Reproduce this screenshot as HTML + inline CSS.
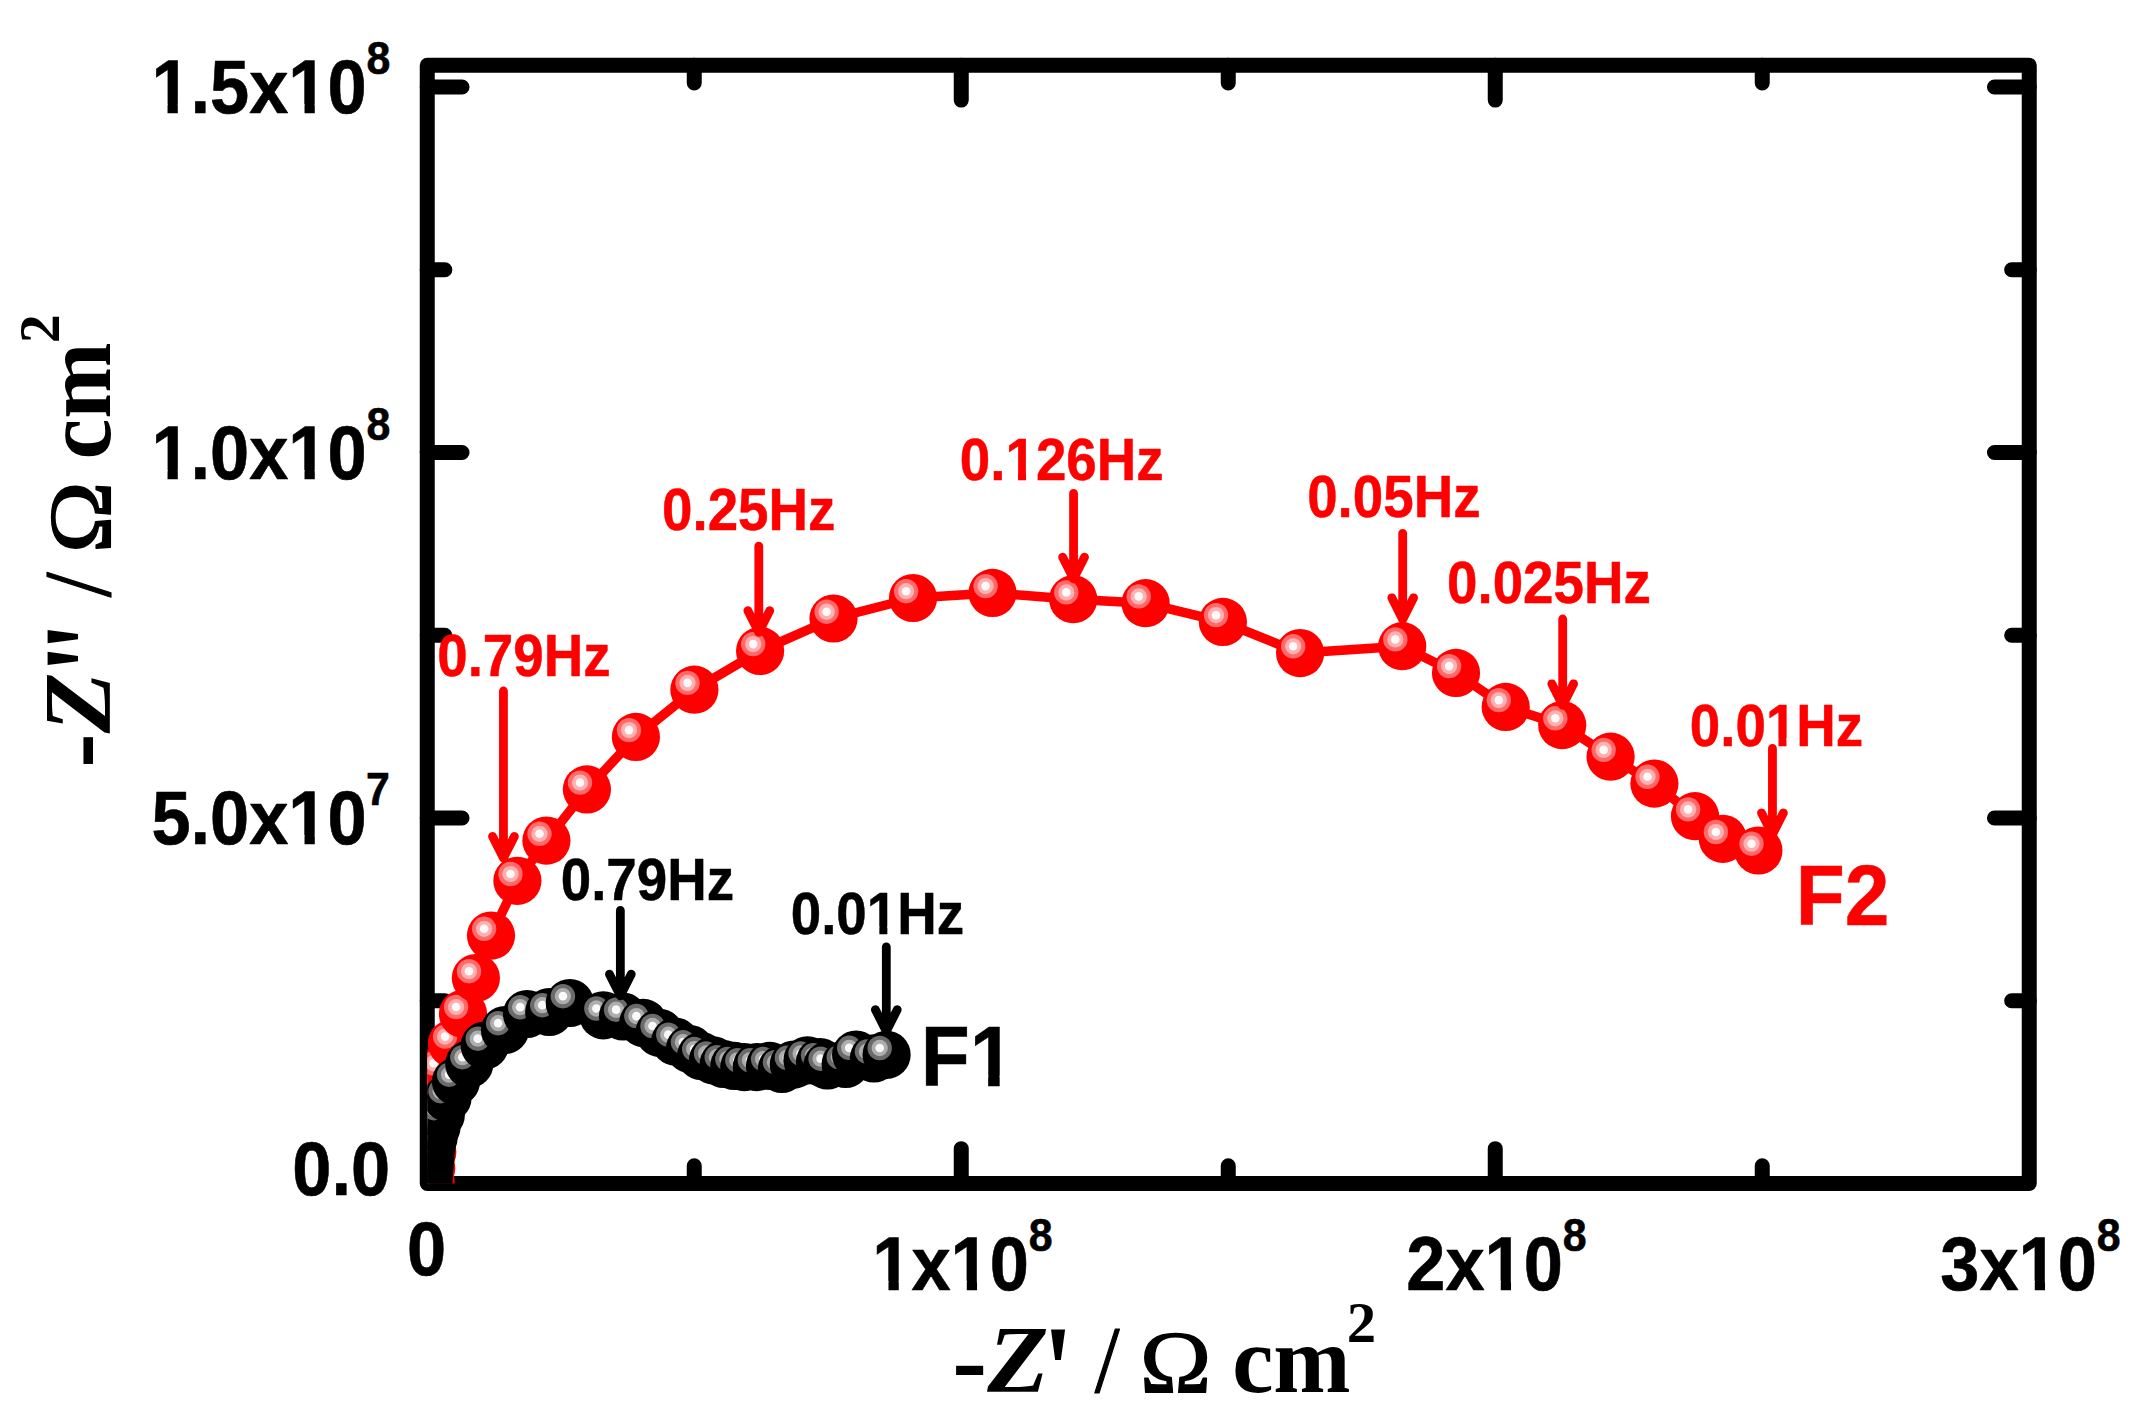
<!DOCTYPE html>
<html lang="en"><head><meta charset="utf-8"><title>Nyquist plot</title>
<style>html,body{margin:0;padding:0;background:#fff}body{width:2145px;height:1422px;overflow:hidden}svg{display:block}text{font-kerning:none;white-space:pre}.s{font-family:"Liberation Sans",Arial,sans-serif;font-weight:bold}.t{font-family:"Liberation Serif","Times New Roman",serif;font-weight:bold}.i{font-style:italic}.r{font-weight:normal}</style></head><body>
<svg width="2145" height="1422" viewBox="0 0 2145 1422">
<defs>
<clipPath id="cp"><rect x="427.25" y="65.30" width="1602.00" height="1118.15"/></clipPath>
</defs>
<rect width="2145" height="1422" fill="#fff"/>
<g fill="none" stroke="#000" stroke-width="15.0" stroke-linecap="round" stroke-linejoin="round">
<rect x="427.25" y="65.30" width="1602.00" height="1118.15"/>
<path d="M694.25 1183.45v-17.6M694.25 65.30v17.6M961.25 1183.45v-34.8M961.25 65.30v34.8M1228.25 1183.45v-17.6M1228.25 65.30v17.6M1495.25 1183.45v-34.8M1495.25 65.30v34.8M1762.25 1183.45v-17.6M1762.25 65.30v17.6M427.25 1000.71h17.6M2029.25 1000.71h-17.6M427.25 817.97h34.8M2029.25 817.97h-34.8M427.25 635.23h17.6M2029.25 635.23h-17.6M427.25 452.48h34.8M2029.25 452.48h-34.8M427.25 269.74h17.6M2029.25 269.74h-17.6M427.25 87.00h34.8M2029.25 87.00h-34.8"/>
</g>
<g clip-path="url(#cp)"><polyline fill="none" stroke="#ff0000" stroke-width="9.5" stroke-linejoin="round" points="430.6,1181.0 431.2,1168.0 432.3,1152.0 434.0,1134.0 436.0,1114.0 438.0,1093.0 440.4,1070.1 452.0,1043.4 463.0,1013.8 475.9,978.0 491.0,935.6 517.4,880.8 546.4,840.6 586.9,789.4 635.9,736.9 694.4,689.7 760.1,650.9 833.5,618.5 913.0,598.0 992.5,592.9 1073.2,599.2 1145.6,603.2 1222.9,621.9 1300.1,653.1 1402.2,646.2 1456.0,672.9 1505.7,706.9 1562.2,725.1 1610.6,756.7 1654.4,783.6 1695.0,816.2 1722.8,838.8 1758.4,850.5"/><g transform="translate(430.6 1181.0)"><circle r="24.1" fill="#ff0000"/><circle cx="-6.9" cy="-6.8" r="12.2" fill="#ff6b6b"/><circle cx="-6.9" cy="-6.8" r="8.1" fill="#ffb0b0"/><circle cx="-6.9" cy="-6.8" r="4.3" fill="#fffafa"/></g><g transform="translate(431.2 1168.0)"><circle r="24.1" fill="#ff0000"/><circle cx="-6.9" cy="-6.8" r="12.2" fill="#ff6b6b"/><circle cx="-6.9" cy="-6.8" r="8.1" fill="#ffb0b0"/><circle cx="-6.9" cy="-6.8" r="4.3" fill="#fffafa"/></g><g transform="translate(432.3 1152.0)"><circle r="24.1" fill="#ff0000"/><circle cx="-6.9" cy="-6.8" r="12.2" fill="#ff6b6b"/><circle cx="-6.9" cy="-6.8" r="8.1" fill="#ffb0b0"/><circle cx="-6.9" cy="-6.8" r="4.3" fill="#fffafa"/></g><g transform="translate(434.0 1134.0)"><circle r="24.1" fill="#ff0000"/><circle cx="-6.9" cy="-6.8" r="12.2" fill="#ff6b6b"/><circle cx="-6.9" cy="-6.8" r="8.1" fill="#ffb0b0"/><circle cx="-6.9" cy="-6.8" r="4.3" fill="#fffafa"/></g><g transform="translate(436.0 1114.0)"><circle r="24.1" fill="#ff0000"/><circle cx="-6.9" cy="-6.8" r="12.2" fill="#ff6b6b"/><circle cx="-6.9" cy="-6.8" r="8.1" fill="#ffb0b0"/><circle cx="-6.9" cy="-6.8" r="4.3" fill="#fffafa"/></g><g transform="translate(438.0 1093.0)"><circle r="24.1" fill="#ff0000"/><circle cx="-6.9" cy="-6.8" r="12.2" fill="#ff6b6b"/><circle cx="-6.9" cy="-6.8" r="8.1" fill="#ffb0b0"/><circle cx="-6.9" cy="-6.8" r="4.3" fill="#fffafa"/></g><g transform="translate(440.4 1070.1)"><circle r="24.1" fill="#ff0000"/><circle cx="-6.9" cy="-6.8" r="12.2" fill="#ff6b6b"/><circle cx="-6.9" cy="-6.8" r="8.1" fill="#ffb0b0"/><circle cx="-6.9" cy="-6.8" r="4.3" fill="#fffafa"/></g><g transform="translate(452.0 1043.4)"><circle r="24.1" fill="#ff0000"/><circle cx="-6.9" cy="-6.8" r="12.2" fill="#ff6b6b"/><circle cx="-6.9" cy="-6.8" r="8.1" fill="#ffb0b0"/><circle cx="-6.9" cy="-6.8" r="4.3" fill="#fffafa"/></g><g transform="translate(463.0 1013.8)"><circle r="24.1" fill="#ff0000"/><circle cx="-6.9" cy="-6.8" r="12.2" fill="#ff6b6b"/><circle cx="-6.9" cy="-6.8" r="8.1" fill="#ffb0b0"/><circle cx="-6.9" cy="-6.8" r="4.3" fill="#fffafa"/></g><g transform="translate(475.9 978.0)"><circle r="24.1" fill="#ff0000"/><circle cx="-6.9" cy="-6.8" r="12.2" fill="#ff6b6b"/><circle cx="-6.9" cy="-6.8" r="8.1" fill="#ffb0b0"/><circle cx="-6.9" cy="-6.8" r="4.3" fill="#fffafa"/></g><g transform="translate(491.0 935.6)"><circle r="24.1" fill="#ff0000"/><circle cx="-6.9" cy="-6.8" r="12.2" fill="#ff6b6b"/><circle cx="-6.9" cy="-6.8" r="8.1" fill="#ffb0b0"/><circle cx="-6.9" cy="-6.8" r="4.3" fill="#fffafa"/></g><g transform="translate(517.4 880.8)"><circle r="24.1" fill="#ff0000"/><circle cx="-6.9" cy="-6.8" r="12.2" fill="#ff6b6b"/><circle cx="-6.9" cy="-6.8" r="8.1" fill="#ffb0b0"/><circle cx="-6.9" cy="-6.8" r="4.3" fill="#fffafa"/></g><g transform="translate(546.4 840.6)"><circle r="24.1" fill="#ff0000"/><circle cx="-6.9" cy="-6.8" r="12.2" fill="#ff6b6b"/><circle cx="-6.9" cy="-6.8" r="8.1" fill="#ffb0b0"/><circle cx="-6.9" cy="-6.8" r="4.3" fill="#fffafa"/></g><g transform="translate(586.9 789.4)"><circle r="24.1" fill="#ff0000"/><circle cx="-6.9" cy="-6.8" r="12.2" fill="#ff6b6b"/><circle cx="-6.9" cy="-6.8" r="8.1" fill="#ffb0b0"/><circle cx="-6.9" cy="-6.8" r="4.3" fill="#fffafa"/></g><g transform="translate(635.9 736.9)"><circle r="24.1" fill="#ff0000"/><circle cx="-6.9" cy="-6.8" r="12.2" fill="#ff6b6b"/><circle cx="-6.9" cy="-6.8" r="8.1" fill="#ffb0b0"/><circle cx="-6.9" cy="-6.8" r="4.3" fill="#fffafa"/></g><g transform="translate(694.4 689.7)"><circle r="24.1" fill="#ff0000"/><circle cx="-6.9" cy="-6.8" r="12.2" fill="#ff6b6b"/><circle cx="-6.9" cy="-6.8" r="8.1" fill="#ffb0b0"/><circle cx="-6.9" cy="-6.8" r="4.3" fill="#fffafa"/></g><g transform="translate(760.1 650.9)"><circle r="24.1" fill="#ff0000"/><circle cx="-6.9" cy="-6.8" r="12.2" fill="#ff6b6b"/><circle cx="-6.9" cy="-6.8" r="8.1" fill="#ffb0b0"/><circle cx="-6.9" cy="-6.8" r="4.3" fill="#fffafa"/></g><g transform="translate(833.5 618.5)"><circle r="24.1" fill="#ff0000"/><circle cx="-6.9" cy="-6.8" r="12.2" fill="#ff6b6b"/><circle cx="-6.9" cy="-6.8" r="8.1" fill="#ffb0b0"/><circle cx="-6.9" cy="-6.8" r="4.3" fill="#fffafa"/></g><g transform="translate(913.0 598.0)"><circle r="24.1" fill="#ff0000"/><circle cx="-6.9" cy="-6.8" r="12.2" fill="#ff6b6b"/><circle cx="-6.9" cy="-6.8" r="8.1" fill="#ffb0b0"/><circle cx="-6.9" cy="-6.8" r="4.3" fill="#fffafa"/></g><g transform="translate(992.5 592.9)"><circle r="24.1" fill="#ff0000"/><circle cx="-6.9" cy="-6.8" r="12.2" fill="#ff6b6b"/><circle cx="-6.9" cy="-6.8" r="8.1" fill="#ffb0b0"/><circle cx="-6.9" cy="-6.8" r="4.3" fill="#fffafa"/></g><g transform="translate(1073.2 599.2)"><circle r="24.1" fill="#ff0000"/><circle cx="-6.9" cy="-6.8" r="12.2" fill="#ff6b6b"/><circle cx="-6.9" cy="-6.8" r="8.1" fill="#ffb0b0"/><circle cx="-6.9" cy="-6.8" r="4.3" fill="#fffafa"/></g><g transform="translate(1145.6 603.2)"><circle r="24.1" fill="#ff0000"/><circle cx="-6.9" cy="-6.8" r="12.2" fill="#ff6b6b"/><circle cx="-6.9" cy="-6.8" r="8.1" fill="#ffb0b0"/><circle cx="-6.9" cy="-6.8" r="4.3" fill="#fffafa"/></g><g transform="translate(1222.9 621.9)"><circle r="24.1" fill="#ff0000"/><circle cx="-6.9" cy="-6.8" r="12.2" fill="#ff6b6b"/><circle cx="-6.9" cy="-6.8" r="8.1" fill="#ffb0b0"/><circle cx="-6.9" cy="-6.8" r="4.3" fill="#fffafa"/></g><g transform="translate(1300.1 653.1)"><circle r="24.1" fill="#ff0000"/><circle cx="-6.9" cy="-6.8" r="12.2" fill="#ff6b6b"/><circle cx="-6.9" cy="-6.8" r="8.1" fill="#ffb0b0"/><circle cx="-6.9" cy="-6.8" r="4.3" fill="#fffafa"/></g><g transform="translate(1402.2 646.2)"><circle r="24.1" fill="#ff0000"/><circle cx="-6.9" cy="-6.8" r="12.2" fill="#ff6b6b"/><circle cx="-6.9" cy="-6.8" r="8.1" fill="#ffb0b0"/><circle cx="-6.9" cy="-6.8" r="4.3" fill="#fffafa"/></g><g transform="translate(1456.0 672.9)"><circle r="24.1" fill="#ff0000"/><circle cx="-6.9" cy="-6.8" r="12.2" fill="#ff6b6b"/><circle cx="-6.9" cy="-6.8" r="8.1" fill="#ffb0b0"/><circle cx="-6.9" cy="-6.8" r="4.3" fill="#fffafa"/></g><g transform="translate(1505.7 706.9)"><circle r="24.1" fill="#ff0000"/><circle cx="-6.9" cy="-6.8" r="12.2" fill="#ff6b6b"/><circle cx="-6.9" cy="-6.8" r="8.1" fill="#ffb0b0"/><circle cx="-6.9" cy="-6.8" r="4.3" fill="#fffafa"/></g><g transform="translate(1562.2 725.1)"><circle r="24.1" fill="#ff0000"/><circle cx="-6.9" cy="-6.8" r="12.2" fill="#ff6b6b"/><circle cx="-6.9" cy="-6.8" r="8.1" fill="#ffb0b0"/><circle cx="-6.9" cy="-6.8" r="4.3" fill="#fffafa"/></g><g transform="translate(1610.6 756.7)"><circle r="24.1" fill="#ff0000"/><circle cx="-6.9" cy="-6.8" r="12.2" fill="#ff6b6b"/><circle cx="-6.9" cy="-6.8" r="8.1" fill="#ffb0b0"/><circle cx="-6.9" cy="-6.8" r="4.3" fill="#fffafa"/></g><g transform="translate(1654.4 783.6)"><circle r="24.1" fill="#ff0000"/><circle cx="-6.9" cy="-6.8" r="12.2" fill="#ff6b6b"/><circle cx="-6.9" cy="-6.8" r="8.1" fill="#ffb0b0"/><circle cx="-6.9" cy="-6.8" r="4.3" fill="#fffafa"/></g><g transform="translate(1695.0 816.2)"><circle r="24.1" fill="#ff0000"/><circle cx="-6.9" cy="-6.8" r="12.2" fill="#ff6b6b"/><circle cx="-6.9" cy="-6.8" r="8.1" fill="#ffb0b0"/><circle cx="-6.9" cy="-6.8" r="4.3" fill="#fffafa"/></g><g transform="translate(1722.8 838.8)"><circle r="24.1" fill="#ff0000"/><circle cx="-6.9" cy="-6.8" r="12.2" fill="#ff6b6b"/><circle cx="-6.9" cy="-6.8" r="8.1" fill="#ffb0b0"/><circle cx="-6.9" cy="-6.8" r="4.3" fill="#fffafa"/></g><g transform="translate(1758.4 850.5)"><circle r="24.1" fill="#ff0000"/><circle cx="-6.9" cy="-6.8" r="12.2" fill="#ff6b6b"/><circle cx="-6.9" cy="-6.8" r="8.1" fill="#ffb0b0"/><circle cx="-6.9" cy="-6.8" r="4.3" fill="#fffafa"/></g></g>
<g clip-path="url(#cp)"><polyline fill="none" stroke="#000" stroke-width="9.5" stroke-linejoin="round" points="428.5,1182.0 429.0,1175.0 429.6,1167.0 430.4,1158.0 431.5,1148.0 433.5,1138.0 436.5,1127.0 440.8,1115.0 447.5,1098.0 456.0,1081.5 469.3,1064.0 484.7,1045.5 505.0,1030.0 527.1,1014.0 549.2,1012.0 569.8,1003.0 603.3,1015.3 623.0,1016.5 643.3,1022.9 659.4,1032.8 675.2,1041.5 689.9,1049.0 701.1,1055.9 713.0,1060.3 723.7,1064.0 734.3,1065.9 744.3,1067.1 756.8,1067.1 770.0,1065.9 781.9,1069.0 793.8,1064.6 807.5,1060.3 820.0,1062.1 827.5,1065.5 845.7,1064.0 856.1,1054.6 873.9,1058.4 886.6,1054.8"/><g transform="translate(428.5 1182.0)"><circle r="24.1" fill="#000"/><circle cx="-6.9" cy="-6.8" r="12.25" fill="#6b6b6b"/><circle cx="-6.9" cy="-6.8" r="8.15" fill="#aeaeae"/><circle cx="-6.9" cy="-6.8" r="4.35" fill="#fafafa"/></g><g transform="translate(429.0 1175.0)"><circle r="24.1" fill="#000"/><circle cx="-6.9" cy="-6.8" r="12.25" fill="#6b6b6b"/><circle cx="-6.9" cy="-6.8" r="8.15" fill="#aeaeae"/><circle cx="-6.9" cy="-6.8" r="4.35" fill="#fafafa"/></g><g transform="translate(429.6 1167.0)"><circle r="24.1" fill="#000"/><circle cx="-6.9" cy="-6.8" r="12.25" fill="#6b6b6b"/><circle cx="-6.9" cy="-6.8" r="8.15" fill="#aeaeae"/><circle cx="-6.9" cy="-6.8" r="4.35" fill="#fafafa"/></g><g transform="translate(430.4 1158.0)"><circle r="24.1" fill="#000"/><circle cx="-6.9" cy="-6.8" r="12.25" fill="#6b6b6b"/><circle cx="-6.9" cy="-6.8" r="8.15" fill="#aeaeae"/><circle cx="-6.9" cy="-6.8" r="4.35" fill="#fafafa"/></g><g transform="translate(431.5 1148.0)"><circle r="24.1" fill="#000"/><circle cx="-6.9" cy="-6.8" r="12.25" fill="#6b6b6b"/><circle cx="-6.9" cy="-6.8" r="8.15" fill="#aeaeae"/><circle cx="-6.9" cy="-6.8" r="4.35" fill="#fafafa"/></g><g transform="translate(433.5 1138.0)"><circle r="24.1" fill="#000"/><circle cx="-6.9" cy="-6.8" r="12.25" fill="#6b6b6b"/><circle cx="-6.9" cy="-6.8" r="8.15" fill="#aeaeae"/><circle cx="-6.9" cy="-6.8" r="4.35" fill="#fafafa"/></g><g transform="translate(436.5 1127.0)"><circle r="24.1" fill="#000"/><circle cx="-6.9" cy="-6.8" r="12.25" fill="#6b6b6b"/><circle cx="-6.9" cy="-6.8" r="8.15" fill="#aeaeae"/><circle cx="-6.9" cy="-6.8" r="4.35" fill="#fafafa"/></g><g transform="translate(440.8 1115.0)"><circle r="24.1" fill="#000"/><circle cx="-6.9" cy="-6.8" r="12.25" fill="#6b6b6b"/><circle cx="-6.9" cy="-6.8" r="8.15" fill="#aeaeae"/><circle cx="-6.9" cy="-6.8" r="4.35" fill="#fafafa"/></g><g transform="translate(447.5 1098.0)"><circle r="24.1" fill="#000"/><circle cx="-6.9" cy="-6.8" r="12.25" fill="#6b6b6b"/><circle cx="-6.9" cy="-6.8" r="8.15" fill="#aeaeae"/><circle cx="-6.9" cy="-6.8" r="4.35" fill="#fafafa"/></g><g transform="translate(456.0 1081.5)"><circle r="24.1" fill="#000"/><circle cx="-6.9" cy="-6.8" r="12.25" fill="#6b6b6b"/><circle cx="-6.9" cy="-6.8" r="8.15" fill="#aeaeae"/><circle cx="-6.9" cy="-6.8" r="4.35" fill="#fafafa"/></g><g transform="translate(469.3 1064.0)"><circle r="24.1" fill="#000"/><circle cx="-6.9" cy="-6.8" r="12.25" fill="#6b6b6b"/><circle cx="-6.9" cy="-6.8" r="8.15" fill="#aeaeae"/><circle cx="-6.9" cy="-6.8" r="4.35" fill="#fafafa"/></g><g transform="translate(484.7 1045.5)"><circle r="24.1" fill="#000"/><circle cx="-6.9" cy="-6.8" r="12.25" fill="#6b6b6b"/><circle cx="-6.9" cy="-6.8" r="8.15" fill="#aeaeae"/><circle cx="-6.9" cy="-6.8" r="4.35" fill="#fafafa"/></g><g transform="translate(505.0 1030.0)"><circle r="24.1" fill="#000"/><circle cx="-6.9" cy="-6.8" r="12.25" fill="#6b6b6b"/><circle cx="-6.9" cy="-6.8" r="8.15" fill="#aeaeae"/><circle cx="-6.9" cy="-6.8" r="4.35" fill="#fafafa"/></g><g transform="translate(527.1 1014.0)"><circle r="24.1" fill="#000"/><circle cx="-6.9" cy="-6.8" r="12.25" fill="#6b6b6b"/><circle cx="-6.9" cy="-6.8" r="8.15" fill="#aeaeae"/><circle cx="-6.9" cy="-6.8" r="4.35" fill="#fafafa"/></g><g transform="translate(549.2 1012.0)"><circle r="24.1" fill="#000"/><circle cx="-6.9" cy="-6.8" r="12.25" fill="#6b6b6b"/><circle cx="-6.9" cy="-6.8" r="8.15" fill="#aeaeae"/><circle cx="-6.9" cy="-6.8" r="4.35" fill="#fafafa"/></g><g transform="translate(569.8 1003.0)"><circle r="24.1" fill="#000"/><circle cx="-6.9" cy="-6.8" r="12.25" fill="#6b6b6b"/><circle cx="-6.9" cy="-6.8" r="8.15" fill="#aeaeae"/><circle cx="-6.9" cy="-6.8" r="4.35" fill="#fafafa"/></g><g transform="translate(603.3 1015.3)"><circle r="24.1" fill="#000"/><circle cx="-6.9" cy="-6.8" r="12.25" fill="#6b6b6b"/><circle cx="-6.9" cy="-6.8" r="8.15" fill="#aeaeae"/><circle cx="-6.9" cy="-6.8" r="4.35" fill="#fafafa"/></g><g transform="translate(623.0 1016.5)"><circle r="24.1" fill="#000"/><circle cx="-6.9" cy="-6.8" r="12.25" fill="#6b6b6b"/><circle cx="-6.9" cy="-6.8" r="8.15" fill="#aeaeae"/><circle cx="-6.9" cy="-6.8" r="4.35" fill="#fafafa"/></g><g transform="translate(643.3 1022.9)"><circle r="24.1" fill="#000"/><circle cx="-6.9" cy="-6.8" r="12.25" fill="#6b6b6b"/><circle cx="-6.9" cy="-6.8" r="8.15" fill="#aeaeae"/><circle cx="-6.9" cy="-6.8" r="4.35" fill="#fafafa"/></g><g transform="translate(659.4 1032.8)"><circle r="24.1" fill="#000"/><circle cx="-6.9" cy="-6.8" r="12.25" fill="#6b6b6b"/><circle cx="-6.9" cy="-6.8" r="8.15" fill="#aeaeae"/><circle cx="-6.9" cy="-6.8" r="4.35" fill="#fafafa"/></g><g transform="translate(675.2 1041.5)"><circle r="24.1" fill="#000"/><circle cx="-6.9" cy="-6.8" r="12.25" fill="#6b6b6b"/><circle cx="-6.9" cy="-6.8" r="8.15" fill="#aeaeae"/><circle cx="-6.9" cy="-6.8" r="4.35" fill="#fafafa"/></g><g transform="translate(689.9 1049.0)"><circle r="24.1" fill="#000"/><circle cx="-6.9" cy="-6.8" r="12.25" fill="#6b6b6b"/><circle cx="-6.9" cy="-6.8" r="8.15" fill="#aeaeae"/><circle cx="-6.9" cy="-6.8" r="4.35" fill="#fafafa"/></g><g transform="translate(701.1 1055.9)"><circle r="24.1" fill="#000"/><circle cx="-6.9" cy="-6.8" r="12.25" fill="#6b6b6b"/><circle cx="-6.9" cy="-6.8" r="8.15" fill="#aeaeae"/><circle cx="-6.9" cy="-6.8" r="4.35" fill="#fafafa"/></g><g transform="translate(713.0 1060.3)"><circle r="24.1" fill="#000"/><circle cx="-6.9" cy="-6.8" r="12.25" fill="#6b6b6b"/><circle cx="-6.9" cy="-6.8" r="8.15" fill="#aeaeae"/><circle cx="-6.9" cy="-6.8" r="4.35" fill="#fafafa"/></g><g transform="translate(723.7 1064.0)"><circle r="24.1" fill="#000"/><circle cx="-6.9" cy="-6.8" r="12.25" fill="#6b6b6b"/><circle cx="-6.9" cy="-6.8" r="8.15" fill="#aeaeae"/><circle cx="-6.9" cy="-6.8" r="4.35" fill="#fafafa"/></g><g transform="translate(734.3 1065.9)"><circle r="24.1" fill="#000"/><circle cx="-6.9" cy="-6.8" r="12.25" fill="#6b6b6b"/><circle cx="-6.9" cy="-6.8" r="8.15" fill="#aeaeae"/><circle cx="-6.9" cy="-6.8" r="4.35" fill="#fafafa"/></g><g transform="translate(744.3 1067.1)"><circle r="24.1" fill="#000"/><circle cx="-6.9" cy="-6.8" r="12.25" fill="#6b6b6b"/><circle cx="-6.9" cy="-6.8" r="8.15" fill="#aeaeae"/><circle cx="-6.9" cy="-6.8" r="4.35" fill="#fafafa"/></g><g transform="translate(756.8 1067.1)"><circle r="24.1" fill="#000"/><circle cx="-6.9" cy="-6.8" r="12.25" fill="#6b6b6b"/><circle cx="-6.9" cy="-6.8" r="8.15" fill="#aeaeae"/><circle cx="-6.9" cy="-6.8" r="4.35" fill="#fafafa"/></g><g transform="translate(770.0 1065.9)"><circle r="24.1" fill="#000"/><circle cx="-6.9" cy="-6.8" r="12.25" fill="#6b6b6b"/><circle cx="-6.9" cy="-6.8" r="8.15" fill="#aeaeae"/><circle cx="-6.9" cy="-6.8" r="4.35" fill="#fafafa"/></g><g transform="translate(781.9 1069.0)"><circle r="24.1" fill="#000"/><circle cx="-6.9" cy="-6.8" r="12.25" fill="#6b6b6b"/><circle cx="-6.9" cy="-6.8" r="8.15" fill="#aeaeae"/><circle cx="-6.9" cy="-6.8" r="4.35" fill="#fafafa"/></g><g transform="translate(793.8 1064.6)"><circle r="24.1" fill="#000"/><circle cx="-6.9" cy="-6.8" r="12.25" fill="#6b6b6b"/><circle cx="-6.9" cy="-6.8" r="8.15" fill="#aeaeae"/><circle cx="-6.9" cy="-6.8" r="4.35" fill="#fafafa"/></g><g transform="translate(807.5 1060.3)"><circle r="24.1" fill="#000"/><circle cx="-6.9" cy="-6.8" r="12.25" fill="#6b6b6b"/><circle cx="-6.9" cy="-6.8" r="8.15" fill="#aeaeae"/><circle cx="-6.9" cy="-6.8" r="4.35" fill="#fafafa"/></g><g transform="translate(820.0 1062.1)"><circle r="24.1" fill="#000"/><circle cx="-6.9" cy="-6.8" r="12.25" fill="#6b6b6b"/><circle cx="-6.9" cy="-6.8" r="8.15" fill="#aeaeae"/><circle cx="-6.9" cy="-6.8" r="4.35" fill="#fafafa"/></g><g transform="translate(827.5 1065.5)"><circle r="24.1" fill="#000"/><circle cx="-6.9" cy="-6.8" r="12.25" fill="#6b6b6b"/><circle cx="-6.9" cy="-6.8" r="8.15" fill="#aeaeae"/><circle cx="-6.9" cy="-6.8" r="4.35" fill="#fafafa"/></g><g transform="translate(845.7 1064.0)"><circle r="24.1" fill="#000"/><circle cx="-6.9" cy="-6.8" r="12.25" fill="#6b6b6b"/><circle cx="-6.9" cy="-6.8" r="8.15" fill="#aeaeae"/><circle cx="-6.9" cy="-6.8" r="4.35" fill="#fafafa"/></g><g transform="translate(856.1 1054.6)"><circle r="24.1" fill="#000"/><circle cx="-6.9" cy="-6.8" r="12.25" fill="#6b6b6b"/><circle cx="-6.9" cy="-6.8" r="8.15" fill="#aeaeae"/><circle cx="-6.9" cy="-6.8" r="4.35" fill="#fafafa"/></g><g transform="translate(873.9 1058.4)"><circle r="24.1" fill="#000"/><circle cx="-6.9" cy="-6.8" r="12.25" fill="#6b6b6b"/><circle cx="-6.9" cy="-6.8" r="8.15" fill="#aeaeae"/><circle cx="-6.9" cy="-6.8" r="4.35" fill="#fafafa"/></g><g transform="translate(886.6 1054.8)"><circle r="24.1" fill="#000"/><circle cx="-6.9" cy="-6.8" r="12.25" fill="#6b6b6b"/><circle cx="-6.9" cy="-6.8" r="8.15" fill="#aeaeae"/><circle cx="-6.9" cy="-6.8" r="4.35" fill="#fafafa"/></g></g>
<text class="s" stroke="#ff0000" stroke-width="0.50" stroke-linejoin="round" fill="#ff0000" font-size="59.30" transform="translate(437.24 676.10) scale(0.9230 1.0000)">0.79Hz</text>
<text class="s" stroke="#ff0000" stroke-width="0.50" stroke-linejoin="round" fill="#ff0000" font-size="59.30" transform="translate(662.04 529.80) scale(0.9230 1.0000)">0.25Hz</text>
<text class="s" stroke="#ff0000" stroke-width="0.50" stroke-linejoin="round" fill="#ff0000" font-size="59.30" transform="translate(959.84 480.00) scale(0.9230 1.0000)">0.126Hz</text><rect x="1007.48" y="472.50" width="10.53" height="8.95" fill="#fff"/><rect x="1026.02" y="472.50" width="9.83" height="8.95" fill="#fff"/>
<text class="s" stroke="#ff0000" stroke-width="0.50" stroke-linejoin="round" fill="#ff0000" font-size="59.30" transform="translate(1307.14 517.00) scale(0.9230 1.0000)">0.05Hz</text>
<text class="s" stroke="#ff0000" stroke-width="0.50" stroke-linejoin="round" fill="#ff0000" font-size="59.30" transform="translate(1447.04 602.90) scale(0.9230 1.0000)">0.025Hz</text>
<text class="s" stroke="#ff0000" stroke-width="0.50" stroke-linejoin="round" fill="#ff0000" font-size="59.30" transform="translate(1689.84 746.00) scale(0.9230 1.0000)">0.01Hz</text><rect x="1767.92" y="738.50" width="10.53" height="8.95" fill="#fff"/><rect x="1786.46" y="738.50" width="9.83" height="8.95" fill="#fff"/>
<text class="s" stroke="#000" stroke-width="0.50" stroke-linejoin="round" font-size="59.30" transform="translate(560.74 900.00) scale(0.9230 1.0000)">0.79Hz</text>
<text class="s" stroke="#000" stroke-width="0.50" stroke-linejoin="round" font-size="59.30" transform="translate(790.74 933.90) scale(0.9230 1.0000)">0.01Hz</text><rect x="868.82" y="926.40" width="10.53" height="8.95" fill="#fff"/><rect x="887.36" y="926.40" width="9.83" height="8.95" fill="#fff"/>
<text class="s" stroke="#ff0000" stroke-width="0.50" stroke-linejoin="round" fill="#ff0000" font-size="85.50" transform="translate(1795.63 924.90) scale(0.9390 1.0000)">F2</text>
<text class="s" stroke="#000" stroke-width="0.50" stroke-linejoin="round" font-size="85.50" transform="translate(920.63 1085.80) scale(0.9390 1.0000)">F1</text><rect x="973.28" y="1075.62" width="14.88" height="11.63" fill="#fff"/><rect x="999.67" y="1075.62" width="13.86" height="11.63" fill="#fff"/>
<path d="M503.45 691.00V858.10M492.55 836.50L503.45 858.10L514.35 836.50" fill="none" stroke="#ff0000" stroke-width="8.8" stroke-linecap="round" stroke-linejoin="round"/>
<path d="M758.80 546.20V632.30M747.90 610.70L758.80 632.30L769.70 610.70" fill="none" stroke="#ff0000" stroke-width="8.8" stroke-linecap="round" stroke-linejoin="round"/>
<path d="M1073.56 493.30V578.80M1062.66 557.20L1073.56 578.80L1084.46 557.20" fill="none" stroke="#ff0000" stroke-width="8.8" stroke-linecap="round" stroke-linejoin="round"/>
<path d="M1402.70 533.30V619.40M1391.80 597.80L1402.70 619.40L1413.60 597.80" fill="none" stroke="#ff0000" stroke-width="8.8" stroke-linecap="round" stroke-linejoin="round"/>
<path d="M1562.70 619.00V705.40M1551.80 683.80L1562.70 705.40L1573.60 683.80" fill="none" stroke="#ff0000" stroke-width="8.8" stroke-linecap="round" stroke-linejoin="round"/>
<path d="M1772.45 748.30V834.60M1761.55 813.00L1772.45 834.60L1783.35 813.00" fill="none" stroke="#ff0000" stroke-width="8.8" stroke-linecap="round" stroke-linejoin="round"/>
<path d="M620.35 910.40V995.80M609.45 974.20L620.35 995.80L631.25 974.20" fill="none" stroke="#000" stroke-width="8.8" stroke-linecap="round" stroke-linejoin="round"/>
<path d="M886.30 946.90V1031.30M875.40 1009.70L886.30 1031.30L897.20 1009.70" fill="none" stroke="#000" stroke-width="8.8" stroke-linecap="round" stroke-linejoin="round"/>
<text class="s" stroke="#000" stroke-width="0.60" stroke-linejoin="round" font-size="75.60" transform="translate(151.41 113.10) scale(0.9310 1.0000)">1.5x10<tspan font-size="46.0" dx="-0.16" dy="-39.6">8</tspan></text><rect x="154.35" y="103.88" width="13.19" height="10.72" fill="#fff"/><rect x="177.80" y="103.88" width="12.30" height="10.72" fill="#fff"/><rect x="291.33" y="103.88" width="13.19" height="10.72" fill="#fff"/><rect x="314.78" y="103.88" width="12.30" height="10.72" fill="#fff"/>
<text class="s" stroke="#000" stroke-width="0.60" stroke-linejoin="round" font-size="75.60" transform="translate(151.41 479.20) scale(0.9310 1.0000)">1.0x10<tspan font-size="46.0" dx="-0.16" dy="-39.6">8</tspan></text><rect x="154.35" y="469.98" width="13.19" height="10.72" fill="#fff"/><rect x="177.80" y="469.98" width="12.30" height="10.72" fill="#fff"/><rect x="291.33" y="469.98" width="13.19" height="10.72" fill="#fff"/><rect x="314.78" y="469.98" width="12.30" height="10.72" fill="#fff"/>
<text class="s" stroke="#000" stroke-width="0.60" stroke-linejoin="round" font-size="75.60" transform="translate(151.41 844.20) scale(0.9310 1.0000)">5.0x10<tspan font-size="46.0" dx="-0.67" dy="-39.6">7</tspan></text><rect x="291.33" y="834.98" width="13.19" height="10.72" fill="#fff"/><rect x="314.78" y="834.98" width="12.30" height="10.72" fill="#fff"/>
<text class="s" stroke="#000" stroke-width="0.60" stroke-linejoin="round" font-size="75.60" transform="translate(292.34 1195.00) scale(0.9310 1.0000)">0.0</text>
<text class="s" stroke="#000" stroke-width="0.60" stroke-linejoin="round" font-size="75.60" transform="translate(407.12 1275.20) scale(0.9310 1.0000)">0</text>
<text class="s" stroke="#000" stroke-width="0.60" stroke-linejoin="round" font-size="75.60" transform="translate(872.36 1290.20) scale(0.9310 1.0000)">1x10<tspan font-size="46.0" dx="-0.16" dy="-39.6">8</tspan></text><rect x="875.29" y="1280.98" width="13.19" height="10.72" fill="#fff"/><rect x="898.75" y="1280.98" width="12.30" height="10.72" fill="#fff"/><rect x="953.58" y="1280.98" width="13.19" height="10.72" fill="#fff"/><rect x="977.03" y="1280.98" width="12.30" height="10.72" fill="#fff"/>
<text class="s" stroke="#000" stroke-width="0.60" stroke-linejoin="round" font-size="75.60" transform="translate(1406.36 1290.20) scale(0.9310 1.0000)">2x10<tspan font-size="46.0" dx="-0.16" dy="-39.6">8</tspan></text><rect x="1487.58" y="1280.98" width="13.19" height="10.72" fill="#fff"/><rect x="1511.03" y="1280.98" width="12.30" height="10.72" fill="#fff"/>
<text class="s" stroke="#000" stroke-width="0.60" stroke-linejoin="round" font-size="75.60" transform="translate(1940.36 1290.20) scale(0.9310 1.0000)">3x10<tspan font-size="46.0" dx="-0.16" dy="-39.6">8</tspan></text><rect x="2021.58" y="1280.98" width="13.19" height="10.72" fill="#fff"/><rect x="2045.03" y="1280.98" width="12.30" height="10.72" fill="#fff"/>
<text class="t"><tspan x="952.18" y="1395.66" font-size="107.11" textLength="34.74" lengthAdjust="spacingAndGlyphs">-</tspan><tspan class="i" x="987.25" y="1392.00" font-size="94.84" textLength="61.41" lengthAdjust="spacingAndGlyphs">Z</tspan><tspan x="1042.47" y="1413.63" font-size="129.86" textLength="31.10" lengthAdjust="spacingAndGlyphs">'</tspan><tspan> </tspan><tspan class="r" x="1094.75" y="1391.73" font-size="94.63" textLength="24.80" lengthAdjust="spacingAndGlyphs" stroke="#000" stroke-width="1.10" stroke-linejoin="round">/</tspan><tspan> </tspan><tspan class="r" x="1139.76" y="1392.05" font-size="88.05" textLength="71.69" lengthAdjust="spacingAndGlyphs" stroke="#000" stroke-width="1.30" stroke-linejoin="round">Ω</tspan><tspan> </tspan><tspan x="1232.13" y="1392.12" font-size="94.70" textLength="118.46" lengthAdjust="spacingAndGlyphs">cm</tspan><tspan x="1346.73" y="1341.70" font-size="56.94" textLength="29.39" lengthAdjust="spacingAndGlyphs">2</tspan></text>
<text class="t" transform="translate(0 764) rotate(-90)"><tspan x="-3.68" y="114.97" font-size="111.82" textLength="34.36" lengthAdjust="spacingAndGlyphs">-</tspan><tspan class="i" x="30.84" y="109.80" font-size="94.23" textLength="60.89" lengthAdjust="spacingAndGlyphs">Z</tspan><tspan x="87.35" y="131.55" font-size="129.44" textLength="58.35" lengthAdjust="spacingAndGlyphs">"</tspan><tspan> </tspan><tspan class="r" x="166.65" y="109.92" font-size="94.93" textLength="25.00" lengthAdjust="spacingAndGlyphs" stroke="#000" stroke-width="1.10" stroke-linejoin="round">/</tspan><tspan> </tspan><tspan class="r" x="210.74" y="110.35" font-size="88.20" textLength="71.92" lengthAdjust="spacingAndGlyphs" stroke="#000" stroke-width="1.30" stroke-linejoin="round">Ω</tspan><tspan> </tspan><tspan x="304.47" y="110.03" font-size="94.28" textLength="117.10" lengthAdjust="spacingAndGlyphs">cm</tspan><tspan x="420.87" y="58.80" font-size="56.64" textLength="28.91" lengthAdjust="spacingAndGlyphs">2</tspan></text>
</svg></body></html>
